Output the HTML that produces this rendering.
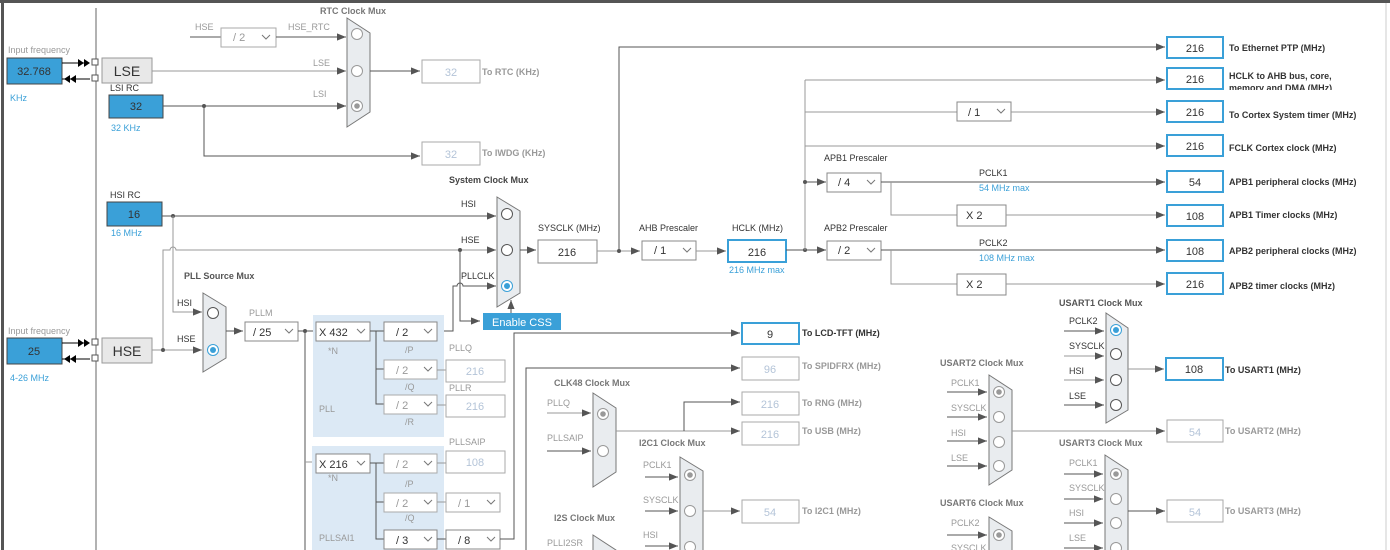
<!DOCTYPE html>
<html><head><meta charset="utf-8"><style>
html,body{margin:0;padding:0;background:#fff}
svg{display:block}
text{font-family:"Liberation Sans",sans-serif;font-size:9px;fill:#333}
.g{fill:#999}.bl{fill:#3aa0d8}.d{fill:#b4c4d8}.bd{font-weight:bold}
.tt{font-weight:bold;fill:#777}
.ln{stroke:#555;stroke-width:1;fill:none}
.lg{stroke:#999;stroke-width:1;fill:none}
.bx{fill:#fff;stroke:#888;stroke-width:1}
.bxd{fill:#fff;stroke:#aaa;stroke-width:1}
.ob{fill:#fff;stroke:#3aa0d8;stroke-width:2}
.blue{fill:#3aa0d8;stroke:#444;stroke-width:1}
.mx{fill:#e9ecef;stroke:#777;stroke-width:1}
.c{fill:#fff;stroke:#555;stroke-width:1}
.cg{fill:#fff;stroke:#999;stroke-width:1}
.chev{stroke:#777;fill:none;stroke-width:1}
.num{font-size:11px;text-anchor:middle}
</style></head><body>
<svg width="1390" height="550" viewBox="0 0 1390 550" xmlns="http://www.w3.org/2000/svg">
<defs>
<marker id="a" viewBox="0 0 10 10" refX="10" refY="5" markerWidth="9" markerHeight="9" markerUnits="userSpaceOnUse" orient="auto"><path d="M0,1 L10,5 L0,9z" fill="#555"/></marker>
</defs>
<rect x="0" y="0" width="1390" height="3" fill="#555"/>
<rect x="1" y="0" width="3" height="550" fill="#555"/>
<line x1="1386" y1="3" x2="1386" y2="550" stroke="#ccc"/>
<line x1="96" y1="8" x2="96" y2="550" stroke="#666"/>

<!-- LSE -->
<text x="8" y="53" class="g">Input frequency</text>
<rect x="7" y="58" width="55" height="26" class="blue"/><text x="34" y="75" class="num">32.768</text>
<text x="10" y="101" class="bl">KHz</text>
<line x1="62" y1="63" x2="88" y2="63" stroke="#000"/><path d="M78,59 L84,63 L78,67z M84,59 L90,63 L84,67z" fill="#000"/>
<line x1="62" y1="79" x2="90" y2="79" stroke="#000"/><path d="M70,75 L64,79 L70,83z M76,75 L70,79 L76,83z" fill="#000"/>
<rect x="92" y="59" width="6" height="6" fill="#fff" stroke="#555"/><rect x="92" y="75" width="6" height="6" fill="#fff" stroke="#555"/>
<rect x="102" y="58" width="50" height="25" fill="#e8e8e8" stroke="#999"/><text x="127" y="76" class="num" style="font-size:14px">LSE</text>
<line x1="152" y1="71" x2="346" y2="71" class="lg" marker-end="url(#a)"/><text x="313" y="66" class="g">LSE</text>
<text x="110" y="91">LSI RC</text>
<rect x="109" y="95" width="54" height="23" class="blue"/><text x="136" y="110" class="num">32</text>
<text x="111" y="131" class="bl">32 KHz</text>
<line x1="163" y1="106" x2="346" y2="106" class="ln" marker-end="url(#a)"/><text x="313" y="97" class="g">LSI</text>
<circle cx="204" cy="106" r="2" fill="#555"/>
<polyline points="204,106 204,156 420,156" class="ln" marker-end="url(#a)"/>
<rect x="422" y="142" width="58" height="23" class="bxd"/><text x="451" y="158" class="num d">32</text><text x="482" y="156" class="g bd">To IWDG (KHz)</text>
<text x="195" y="30" class="g">HSE</text><text x="288" y="30" class="g">HSE_RTC</text>
<line x1="190" y1="37" x2="221" y2="37" class="ln"/>
<rect x="221" y="28" width="55" height="19" class="bxd"/><text x="233" y="41" class="g" style="font-size:11px">/ 2</text><polyline points="262,35 266,39 270,35" class="chev" stroke="#bbb"/>
<line x1="276" y1="37" x2="346" y2="37" class="ln" marker-end="url(#a)"/>
<text x="320" y="14" class="tt">RTC Clock Mux</text>
<polygon points="347,18 370,33 370,112 347,127" class="mx"/>
<circle cx="357" cy="34" r="5.5" class="cg"/><circle cx="357" cy="71" r="5.5" class="cg"/><circle cx="357" cy="106" r="5.5" class="cg"/><circle cx="357" cy="106" r="2.8" fill="#999"/>
<line x1="370" y1="71" x2="420" y2="71" class="ln" marker-end="url(#a)"/>
<rect x="422" y="60" width="58" height="23" class="bxd"/><text x="451" y="76" class="num d">32</text><text x="482" y="75" class="g bd">To RTC (KHz)</text>

<!-- HSI -->
<text x="110" y="198">HSI RC</text>
<rect x="107" y="202" width="55" height="24" class="blue"/><text x="134" y="218" class="num">16</text>
<text x="111" y="236" class="bl">16 MHz</text>
<line x1="162" y1="216" x2="496" y2="216" class="ln" marker-end="url(#a)"/><circle cx="173" cy="216" r="2" fill="#555"/>
<polyline points="173,216 173,312 202,312" class="lg" marker-end="url(#a)"/>
<path d="M163,350 L163,250 L170,250 A3,3 0 0 1 176,250 L496,250" class="lg" marker-end="url(#a)"/>
<circle cx="460" cy="250" r="2" fill="#555"/>
<polyline points="460,250 460,321 480,321" class="ln" marker-end="url(#a)"/>
<path d="M437,331 L453,331 L453,286 L457,286 A3,3 0 0 1 463,286 L496,286" class="ln" marker-end="url(#a)"/>
<text x="449" y="183" class="bd" style="fill:#444">System Clock Mux</text>
<text x="461" y="207">HSI</text><text x="461" y="243">HSE</text><text x="461" y="279">PLLCLK</text>
<polygon points="497,197 520,211 520,293 497,307" class="mx"/>
<circle cx="507" cy="214" r="5.5" class="c"/><circle cx="507" cy="250" r="5.5" class="c"/><circle cx="507" cy="286" r="5.5" fill="#fff" stroke="#3aa0d8"/><circle cx="507" cy="286" r="3" fill="#3aa0d8"/>
<rect x="483" y="313" width="78" height="17" fill="#3aa0d8"/><text x="492" y="326" style="fill:#fff;font-size:11px">Enable CSS</text>
<line x1="511" y1="313" x2="511" y2="300" class="ln" marker-end="url(#a)"/>
<line x1="520" y1="250" x2="536" y2="250" class="ln" marker-end="url(#a)"/>
<text x="538" y="231">SYSCLK (MHz)</text>
<rect x="538" y="240" width="59" height="23" class="bx"/><text x="567" y="256" class="num">216</text>
<line x1="597" y1="251" x2="640" y2="251" class="lg" marker-end="url(#a)"/><circle cx="619" cy="251" r="2" fill="#555"/>
<polyline points="619,251 619,47 1165,47" class="ln" marker-end="url(#a)"/>
<text x="639" y="231">AHB Prescaler</text>
<rect x="642" y="241" width="54" height="19" class="bx"/><text x="654" y="254" style="font-size:11px">/ 1</text><polyline points="683,248 687,252 691,248" class="chev"/>
<line x1="696" y1="251" x2="726" y2="251" class="lg" marker-end="url(#a)"/>
<text x="732" y="231">HCLK (MHz)</text>
<rect x="728" y="240" width="58" height="22" class="ob"/><text x="757" y="256" class="num">216</text>
<text x="729" y="273" class="bl">216 MHz max</text>
<line x1="786" y1="250" x2="826" y2="250" class="ln" marker-end="url(#a)"/><circle cx="805" cy="250" r="2" fill="#555"/>
<line x1="805" y1="250" x2="805" y2="80" class="lg"/>
<line x1="805" y1="80" x2="1165" y2="80" class="lg" marker-end="url(#a)"/>
<line x1="805" y1="112" x2="957" y2="112" class="lg"/>
<rect x="957" y="102" width="54" height="19" class="bx"/><text x="968" y="116" style="font-size:11px">/ 1</text><polyline points="997,109 1001,113 1005,109" class="chev"/>
<line x1="1011" y1="112" x2="1165" y2="112" class="lg" marker-end="url(#a)"/>
<line x1="805" y1="146" x2="1165" y2="146" class="lg" marker-end="url(#a)"/>
<line x1="805" y1="182" x2="826" y2="182" class="ln" marker-end="url(#a)"/><circle cx="805" cy="182" r="2" fill="#555"/>
<text x="824" y="161">APB1 Prescaler</text><text x="824" y="231">APB2 Prescaler</text>
<rect x="827" y="173" width="54" height="19" class="bx"/><text x="838" y="186" style="font-size:11px">/ 4</text><polyline points="867,180 871,184 875,180" class="chev"/>
<rect x="827" y="241" width="54" height="19" class="bx"/><text x="838" y="254" style="font-size:11px">/ 2</text><polyline points="867,248 871,252 875,248" class="chev"/>
<line x1="881" y1="182" x2="1165" y2="182" class="ln" marker-end="url(#a)"/>
<text x="979" y="176">PCLK1</text><text x="979" y="191" class="bl">54 MHz max</text>
<polyline points="891,182 891,215 957,215" class="lg"/>
<rect x="957" y="205" width="49" height="21" class="bx"/><text x="966" y="219" style="font-size:11px">X 2</text>
<line x1="1006" y1="215" x2="1165" y2="215" class="lg" marker-end="url(#a)"/>
<line x1="881" y1="250" x2="1165" y2="250" class="ln" marker-end="url(#a)"/>
<text x="979" y="246">PCLK2</text><text x="979" y="261" class="bl">108 MHz max</text>
<polyline points="891,250 891,284 957,284" class="lg"/>
<rect x="957" y="274" width="49" height="21" class="bx"/><text x="966" y="288" style="font-size:11px">X 2</text>
<line x1="1006" y1="284" x2="1165" y2="284" class="lg" marker-end="url(#a)"/>

<rect x="1167" y="37" width="56" height="21" class="ob"/><text x="1195" y="52" class="num">216</text><text x="1229" y="51" class="bd">To Ethernet PTP (MHz)</text>
<rect x="1167" y="68" width="56" height="21" class="ob"/><text x="1195" y="83" class="num">216</text><text x="1229" y="79" class="bd">HCLK to AHB bus, core,</text>
<svg x="1229" y="82" width="120" height="8" overflow="hidden"><text x="0" y="9" class="bd">memory and DMA (MHz)</text></svg>
<rect x="1167" y="101" width="56" height="21" class="ob"/><text x="1195" y="116" class="num">216</text><text x="1229" y="118" class="bd">To Cortex System timer (MHz)</text>
<rect x="1167" y="135" width="56" height="21" class="ob"/><text x="1195" y="150" class="num">216</text><text x="1229" y="151" class="bd">FCLK Cortex clock (MHz)</text>
<rect x="1167" y="171" width="56" height="21" class="ob"/><text x="1195" y="186" class="num">54</text><text x="1229" y="185" class="bd">APB1 peripheral clocks (MHz)</text>
<rect x="1167" y="205" width="56" height="21" class="ob"/><text x="1195" y="220" class="num">108</text><text x="1229" y="218" class="bd">APB1 Timer clocks (MHz)</text>
<rect x="1167" y="240" width="56" height="21" class="ob"/><text x="1195" y="255" class="num">108</text><text x="1229" y="254" class="bd">APB2 peripheral clocks (MHz)</text>
<rect x="1167" y="273" width="56" height="21" class="ob"/><text x="1195" y="288" class="num">216</text><text x="1229" y="289" class="bd">APB2 timer clocks (MHz)</text>

<!-- HSE -->
<text x="8" y="334" class="g">Input frequency</text>
<rect x="7" y="338" width="55" height="26" class="blue"/><text x="34" y="355" class="num">25</text>
<text x="10" y="381" class="bl">4-26 MHz</text>
<line x1="62" y1="343" x2="88" y2="343" stroke="#000"/><path d="M78,339 L84,343 L78,347z M84,339 L90,343 L84,347z" fill="#000"/>
<line x1="62" y1="359" x2="90" y2="359" stroke="#000"/><path d="M70,355 L64,359 L70,363z M76,355 L70,359 L76,363z" fill="#000"/>
<rect x="92" y="339" width="6" height="6" fill="#fff" stroke="#555"/><rect x="92" y="355" width="6" height="6" fill="#fff" stroke="#555"/>
<rect x="102" y="338" width="50" height="25" fill="#e8e8e8" stroke="#999"/><text x="127" y="356" class="num" style="font-size:14px">HSE</text>
<line x1="152" y1="350" x2="202" y2="350" class="lg" marker-end="url(#a)"/><circle cx="163" cy="350" r="2" fill="#555"/>
<text x="184" y="279" class="bd" style="fill:#555">PLL Source Mux</text>
<text x="177" y="306">HSI</text><text x="177" y="342">HSE</text>
<polygon points="203,293 226,307 226,358 203,372" class="mx"/>
<circle cx="213" cy="313" r="5.5" class="c"/><circle cx="213" cy="350" r="5.5" fill="#fff" stroke="#3aa0d8"/><circle cx="213" cy="350" r="3" fill="#3aa0d8"/>
<line x1="226" y1="331" x2="243" y2="331" class="ln" marker-end="url(#a)"/>
<text x="249" y="316" class="g">PLLM</text>
<rect x="245" y="322" width="53" height="19" class="bx"/><text x="253" y="336" style="font-size:11px">/ 25</text><polyline points="285,329 289,333 293,329" class="chev"/>
<line x1="298" y1="331" x2="316" y2="331" class="ln"/><circle cx="305" cy="331" r="2" fill="#555"/>
<polyline points="305,331 305,550" class="ln"/><line x1="305" y1="462" x2="316" y2="462" class="lg"/>
<rect x="313" y="315" width="131" height="122" fill="#dce9f5"/>
<rect x="312" y="446" width="132" height="104" fill="#dce9f5"/>
<rect x="316" y="322" width="54" height="19" class="bx"/><text x="319" y="336" style="font-size:11px">X 432</text><polyline points="357,329 361,333 365,329" class="chev"/>
<text x="328" y="354" class="g">*N</text><text x="319" y="412" class="g">PLL</text>
<polyline points="370,331 384,331" class="ln"/><polyline points="376,331 376,404 384,404" class="ln"/><line x1="376" y1="369" x2="384" y2="369" class="ln"/>
<rect x="384" y="322" width="53" height="19" class="bx"/><text x="396" y="336" style="font-size:11px">/ 2</text><polyline points="424,329 428,333 432,329" class="chev"/><text x="405" y="353" class="g">/P</text>
<rect x="384" y="360" width="53" height="19" class="bxd"/><text x="396" y="374" class="g" style="font-size:11px">/ 2</text><polyline points="424,367 428,371 432,367" class="chev" stroke="#ccc"/><text x="405" y="390" class="g">/Q</text>
<rect x="384" y="395" width="53" height="19" class="bxd"/><text x="396" y="409" class="g" style="font-size:11px">/ 2</text><polyline points="424,402 428,406 432,402" class="chev" stroke="#ccc"/><text x="405" y="425" class="g">/R</text>
<line x1="437" y1="370" x2="446" y2="370" class="lg"/><line x1="437" y1="405" x2="446" y2="405" class="lg"/>
<text x="449" y="351" class="g">PLLQ</text><rect x="446" y="360" width="59" height="22" class="bxd"/><text x="475" y="375" class="num d">216</text>
<text x="449" y="391" class="g">PLLR</text><rect x="446" y="395" width="59" height="22" class="bxd"/><text x="475" y="410" class="num d">216</text>
<rect x="316" y="454" width="54" height="19" class="bx"/><text x="319" y="468" style="font-size:11px">X 216</text><polyline points="357,461 361,465 365,461" class="chev"/>
<text x="328" y="481" class="g">*N</text><text x="319" y="541" class="g">PLLSAI1</text>
<polyline points="370,463 384,463" class="ln"/><polyline points="376,463 376,539 384,539" class="ln"/><line x1="376" y1="502" x2="384" y2="502" class="ln"/>
<rect x="384" y="454" width="53" height="19" class="bxd"/><text x="396" y="468" class="g" style="font-size:11px">/ 2</text><polyline points="424,461 428,465 432,461" class="chev" stroke="#ccc"/><text x="405" y="487" class="g">/P</text>
<rect x="384" y="493" width="53" height="19" class="bxd"/><text x="396" y="507" class="g" style="font-size:11px">/ 2</text><polyline points="424,500 428,504 432,500" class="chev" stroke="#ccc"/><text x="405" y="521" class="g">/Q</text>
<rect x="384" y="530" width="53" height="19" class="bx"/><text x="396" y="544" style="font-size:11px">/ 3</text><polyline points="424,537 428,541 432,537" class="chev"/>
<text x="449" y="445" class="g">PLLSAIP</text><rect x="446" y="451" width="59" height="22" class="bxd"/><text x="475" y="466" class="num d">108</text>
<line x1="437" y1="463" x2="446" y2="463" class="lg"/><line x1="437" y1="502" x2="446" y2="502" class="lg"/><line x1="437" y1="539" x2="446" y2="539" class="ln"/>
<rect x="446" y="493" width="54" height="19" class="bxd"/><text x="458" y="507" class="g" style="font-size:11px">/ 1</text><polyline points="487,500 491,504 495,500" class="chev" stroke="#ccc"/>
<rect x="446" y="530" width="54" height="19" class="bx"/><text x="458" y="544" style="font-size:11px">/ 8</text><polyline points="487,537 491,541 495,537" class="chev"/>
<polyline points="500,539 514,539 514,333 740,333" class="ln" marker-end="url(#a)"/>
<rect x="742" y="323" width="57" height="21" class="ob"/><text x="770" y="338" class="num">9</text><text x="802" y="336" class="bd">To LCD-TFT (MHz)</text>
<polyline points="526,550 526,368 740,368" class="ln" marker-end="url(#a)"/>
<rect x="742" y="357" width="57" height="23" class="bxd"/><text x="770" y="373" class="num d">96</text><text x="802" y="369" class="g bd">To SPIDFRX (MHz)</text>

<!-- CLK48 -->
<text x="554" y="386" class="tt">CLK48 Clock Mux</text>
<text x="547" y="406" class="g">PLLQ</text><text x="547" y="441" class="g">PLLSAIP</text>
<line x1="547" y1="413" x2="591" y2="413" class="lg" marker-end="url(#a)"/><line x1="547" y1="451" x2="591" y2="451" class="ln" marker-end="url(#a)"/>
<polygon points="593,393 616,408 616,472 593,487" class="mx"/>
<circle cx="603" cy="414" r="5.5" class="cg"/><circle cx="603" cy="414" r="2.8" fill="#999"/><circle cx="603" cy="451" r="5.5" class="cg"/>
<line x1="616" y1="431" x2="740" y2="431" class="lg" marker-end="url(#a)"/>
<polyline points="684,431 684,402 740,402" class="ln" marker-end="url(#a)"/>
<rect x="742" y="392" width="57" height="23" class="bxd"/><text x="770" y="408" class="num d">216</text><text x="802" y="406" class="g bd">To RNG (MHz)</text>
<rect x="742" y="422" width="57" height="23" class="bxd"/><text x="770" y="438" class="num d">216</text><text x="802" y="434" class="g bd">To USB (MHz)</text>

<!-- I2C1 -->
<text x="639" y="446" class="tt">I2C1 Clock Mux</text>
<text x="643" y="468" class="g">PCLK1</text><text x="643" y="503" class="g">SYSCLK</text><text x="643" y="538" class="g">HSI</text>
<line x1="645" y1="477" x2="678" y2="477" class="ln" marker-end="url(#a)"/><line x1="645" y1="511" x2="678" y2="511" class="ln" marker-end="url(#a)"/><line x1="645" y1="546" x2="678" y2="546" class="ln" marker-end="url(#a)"/>
<polygon points="680,457 703,471 703,560 680,560" class="mx"/>
<circle cx="690" cy="475" r="5.5" class="cg"/><circle cx="690" cy="475" r="2.8" fill="#999"/><circle cx="690" cy="511" r="5.5" class="cg"/><circle cx="690" cy="547" r="5.5" class="cg"/>
<line x1="703" y1="511" x2="740" y2="511" class="lg" marker-end="url(#a)"/>
<rect x="742" y="500" width="57" height="23" class="bxd"/><text x="770" y="516" class="num d">54</text><text x="802" y="514" class="g bd">To I2C1 (MHz)</text>

<!-- I2S -->
<text x="554" y="521" class="tt">I2S Clock Mux</text>
<text x="547" y="546" class="g">PLLI2SR</text>
<polygon points="593,535 616,550 616,560 593,560" class="mx"/>

<!-- USART2 -->
<text x="940" y="366" class="tt">USART2 Clock Mux</text>
<text x="951" y="386" class="g">PCLK1</text><text x="951" y="411" class="g">SYSCLK</text><text x="951" y="436" class="g">HSI</text><text x="951" y="461" class="g">LSE</text>
<line x1="947" y1="392" x2="987" y2="392" class="ln" marker-end="url(#a)"/><line x1="947" y1="417" x2="987" y2="417" class="ln" marker-end="url(#a)"/><line x1="947" y1="441" x2="987" y2="441" class="ln" marker-end="url(#a)"/><line x1="947" y1="466" x2="987" y2="466" class="ln" marker-end="url(#a)"/>
<polygon points="989,375 1012,390 1012,470 989,485" class="mx"/>
<circle cx="999" cy="392" r="5.5" class="cg"/><circle cx="999" cy="392" r="2.8" fill="#999"/><circle cx="999" cy="417" r="5.5" class="cg"/><circle cx="999" cy="442" r="5.5" class="cg"/><circle cx="999" cy="466" r="5.5" class="cg"/>
<line x1="1012" y1="431" x2="1165" y2="431" class="lg" marker-end="url(#a)"/>
<rect x="1167" y="420" width="56" height="22" class="bxd"/><text x="1195" y="436" class="num d">54</text><text x="1225" y="434" class="g bd">To USART2 (MHz)</text>

<!-- USART6 -->
<text x="940" y="506" class="tt">USART6 Clock Mux</text>
<text x="951" y="526" class="g">PCLK2</text><text x="951" y="551" class="g">SYSCLK</text>
<line x1="947" y1="535" x2="987" y2="535" class="ln" marker-end="url(#a)"/>
<polygon points="989,517 1012,531 1012,560 989,560" class="mx"/>
<circle cx="999" cy="535" r="5.5" class="cg"/><circle cx="999" cy="535" r="2.8" fill="#999"/>

<!-- USART1 -->
<text x="1059" y="306" class="bd" style="fill:#555">USART1 Clock Mux</text>
<text x="1069" y="324">PCLK2</text><text x="1069" y="349">SYSCLK</text><text x="1069" y="374">HSI</text><text x="1069" y="399">LSE</text>
<line x1="1064" y1="331" x2="1104" y2="331" class="ln" marker-end="url(#a)"/><line x1="1064" y1="356" x2="1104" y2="356" class="lg" marker-end="url(#a)"/><line x1="1064" y1="380" x2="1104" y2="380" class="lg" marker-end="url(#a)"/><line x1="1064" y1="405" x2="1104" y2="405" class="ln" marker-end="url(#a)"/>
<polygon points="1106,313 1128,328 1128,410 1106,423" class="mx"/>
<circle cx="1116" cy="330" r="5.5" fill="#fff" stroke="#3aa0d8"/><circle cx="1116" cy="330" r="3" fill="#3aa0d8"/><circle cx="1116" cy="354" r="5.5" class="c"/><circle cx="1116" cy="380" r="5.5" class="c"/><circle cx="1116" cy="405" r="5.5" class="c"/>
<line x1="1128" y1="369" x2="1164" y2="369" class="lg" marker-end="url(#a)"/>
<rect x="1166" y="358" width="57" height="22" class="ob"/><text x="1194" y="373" class="num">108</text><text x="1225" y="373" class="bd">To USART1 (MHz)</text>

<!-- USART3 -->
<text x="1059" y="446" class="tt">USART3 Clock Mux</text>
<text x="1069" y="466" class="g">PCLK1</text><text x="1069" y="491" class="g">SYSCLK</text><text x="1069" y="516" class="g">HSI</text><text x="1069" y="541" class="g">LSE</text>
<line x1="1064" y1="474" x2="1103" y2="474" class="ln" marker-end="url(#a)"/><line x1="1064" y1="499" x2="1103" y2="499" class="ln" marker-end="url(#a)"/><line x1="1064" y1="523" x2="1103" y2="523" class="ln" marker-end="url(#a)"/><line x1="1064" y1="548" x2="1103" y2="548" class="ln" marker-end="url(#a)"/>
<polygon points="1105,455 1128,470 1128,560 1105,560" class="mx"/>
<circle cx="1116" cy="474" r="5.5" class="cg"/><circle cx="1116" cy="474" r="2.8" fill="#999"/><circle cx="1116" cy="499" r="5.5" class="cg"/><circle cx="1116" cy="523" r="5.5" class="cg"/><circle cx="1116" cy="548" r="5.5" class="cg"/>
<line x1="1128" y1="511" x2="1165" y2="511" class="ln" marker-end="url(#a)"/>
<rect x="1167" y="500" width="56" height="22" class="bxd"/><text x="1195" y="516" class="num d">54</text><text x="1225" y="514" class="g bd">To USART3 (MHz)</text>
</svg>
</body></html>
